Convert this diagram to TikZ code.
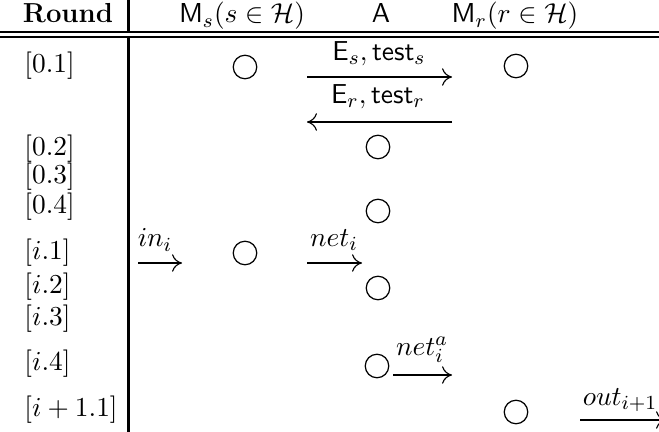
\documentclass[tikz,border=0pt]{standalone}
\usetikzlibrary{arrows.meta}

\begin{document}
\begin{tikzpicture}[
    x=0.4pt, y=-0.4pt,
    >={Computer Modern Rightarrow[length=4pt,width=7pt]},
    font=\fontsize{11}{13}\selectfont,
    hdr/.style={inner sep=0pt, anchor=base},
    rnd/.style={inner sep=0pt, anchor=west},
    cir/.style={circle, draw, minimum size=9.4pt, inner sep=0pt, line width=0.5pt},
    lbl/.style={inner sep=0pt},
    arr/.style={->, line width=0.45pt},
    rule/.style={line width=0.8pt},
]
\useasboundingbox (0,0) rectangle (659,432);
% ---------- table frame ----------
\draw[rule] (0,32.5) -- (659,32.5);
\draw[rule] (0,37) -- (659,37);
\draw[line width=1.2pt] (128,0) -- (128,32.5);
\draw[line width=1.2pt] (128,37) -- (128,432);
% ---------- header ----------
\node[hdr] (hround) at (68,23)  {\textbf{Round}};
\node[hdr] (hms)    at (242,23) {$\mathsf{M}_s(s\in\mathcal{H})$};
\node[hdr] (ha)     at (381,23) {$\mathsf{A}$};
\node[hdr] (hmr)    at (515,23) {$\mathsf{M}_r(r\in\mathcal{H})$};
% ---------- round labels ----------
\node[rnd] (r01) at (24,66)  {$[0.1]$};
\node[rnd] (r02) at (24,149) {$[0.2]$};
\node[rnd] (r03) at (24,177) {$[0.3]$};
\node[rnd] (r04) at (24,207) {$[0.4]$};
\node[rnd] (ri1) at (24,253) {$[i.1]$};
\node[rnd] (ri2) at (24,287) {$[i.2]$};
\node[rnd] (ri3) at (24,319) {$[i.3]$};
\node[rnd] (ri4) at (24,364) {$[i.4]$};
\node[rnd] (rn1) at (24,410) {$[i+1.1]$};
% ---------- parties ----------
\node[cir] (c01s) at (245,67)  {};
\node[cir] (c01r) at (516,66)  {};
\node[cir] (c02a) at (378,147) {};
\node[cir] (c04a) at (378,211) {};
\node[cir] (ci1s) at (245,253) {};
\node[cir] (ci2a) at (378,288) {};
\node[cir] (ci4a) at (377,366) {};
\node[cir] (cn1r) at (516,412) {};
% ---------- messages ----------
\coordinate (esL) at (307,77);  \coordinate (esR) at (452,77);
\coordinate (erL) at (307,122); \coordinate (erR) at (452,122);
\coordinate (inL) at (138,263); \coordinate (inR) at (182,263);
\coordinate (ntL) at (307,263); \coordinate (ntR) at (362,263);
\coordinate (naL) at (393,375); \coordinate (naR) at (452,375);
\coordinate (otL) at (580,420); \coordinate (otR) at (666,420);
\node[lbl] (les) at (379,54)  {$\mathsf{E}_s,\mathsf{test}_s$};
\node[lbl] (ler) at (378,97)  {$\mathsf{E}_r,\mathsf{test}_r$};
\node[lbl] (lin) at (155,240) {$in_i$};
\node[lbl] (lnt) at (334,240) {$net_i$};
\node[lbl] (lna) at (422,350) {$net_i^a$};
\node[lbl] (lot) at (620,400) {$out_{i+1}$};
\draw[arr] (esL) -- (esR);
\draw[arr] (erR) -- (erL);
\draw[arr] (inL) -- (inR);
\draw[arr] (ntL) -- (ntR);
\draw[arr] (naL) -- (naR);
\draw[arr] (otL) -- (otR);
\end{tikzpicture}
\end{document}
